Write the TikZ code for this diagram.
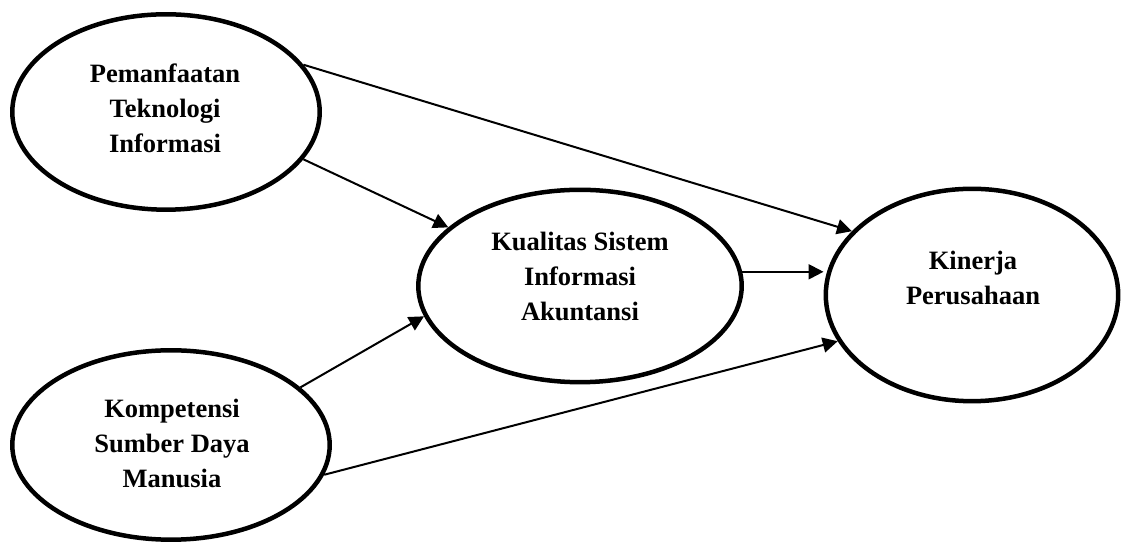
\documentclass[tikz,border=0pt]{standalone}
\usepackage{fontspec}
\setmainfont{Liberation Serif}
\usetikzlibrary{shapes.geometric,arrows.meta}

\begin{document}
\begin{tikzpicture}[x=0.5pt,y=0.5pt,
    var/.style={ellipse,draw,line width=2.25pt,inner sep=0pt},
    lbl/.style={align=center,font=\fontsize{13.25}{17.5}\selectfont\bfseries},
    arr/.style={-{Triangle[length=7.5pt,width=7.5pt]},line width=1pt}]
  \useasboundingbox (0,0) rectangle (1124,545);
  \node[var,minimum width=153.7pt,minimum height=97.7pt] (ti) at (166,433) {};
  \node[var,minimum width=158.7pt,minimum height=94.7pt] (sdm) at (171,100) {};
  \node[var,minimum width=161.7pt,minimum height=96.2pt] (sia) at (580,259) {};
  \node[var,minimum width=146.2pt,minimum height=106.2pt] (kp) at (972,250) {};
  \node[lbl] (ti-txt) at (165,437) {Pemanfaatan\\Teknologi\\Informasi};
  \node[lbl] (sdm-txt) at (172,102) {Kompetensi\\Sumber Daya\\Manusia};
  \node[lbl] (sia-txt) at (580,269) {Kualitas Sistem\\Informasi\\Akuntansi};
  \node[lbl] (kp-txt) at (973,267) {Kinerja\\Perusahaan};
  \draw[arr] (ti.19) -- (kp.152);
  \draw[arr] (ti.-19) -- (sia.156);
  \draw[arr] (sdm.24) -- (sia.191);
  \draw[arr] (sdm.-11) -- (kp.199);
  \draw[arr] (sia.5) -- (sia.5 -| kp.west);
\end{tikzpicture}
\end{document}
